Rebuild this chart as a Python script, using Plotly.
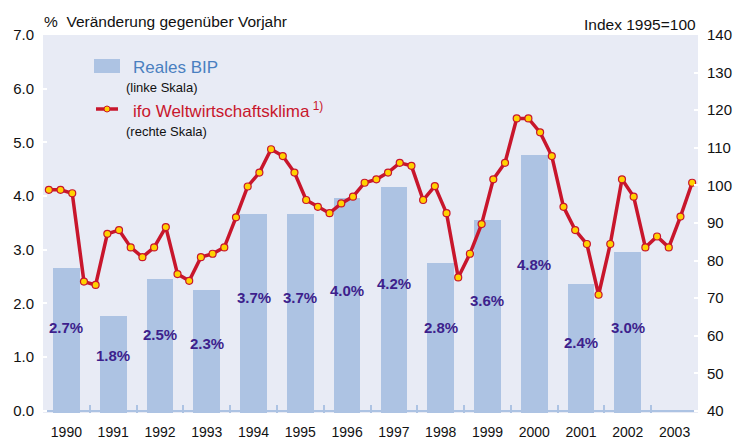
import numpy as np
import plotly.graph_objects as go

years = [1990, 1991, 1992, 1993, 1994, 1995, 1996, 1997, 1998, 1999, 2000, 2001, 2002, 2003]
bip_years = [1990, 1991, 1992, 1993, 1994, 1995, 1996, 1997, 1998, 1999, 2000, 2001, 2002]
bip = [2.7, 1.8, 2.5, 2.3, 3.7, 3.7, 4.0, 4.2, 2.8, 3.6, 4.8, 2.4, 3.0]
bip_labels = ["2.7%", "1.8%", "2.5%", "2.3%", "3.7%", "3.7%", "4.0%", "4.2%", "2.8%", "3.6%", "4.8%", "2.4%", "3.0%"]
# label heights inside the bars (left-axis units)
label_y = [1.56, 1.04, 1.43, 1.25, 2.12, 2.12, 2.25, 2.38, 1.56, 2.05, 2.72, 1.28, 1.56]

# ifo Weltwirtschaftsklima, quarterly, Index 1995=100
ifo = [98.8, 98.8, 97.9, 74.4,
       73.5, 87.1, 88.1, 83.5,
       80.9, 83.5, 88.9, 76.4,
       74.6, 80.9, 81.8, 83.5,
       91.5, 99.7, 103.4, 109.6,
       107.8, 103.4, 96.1, 94.3,
       92.6, 95.2, 97.0, 100.7,
       101.6, 103.4, 106.0, 105.2,
       96.1, 99.8, 92.6, 75.5,
       81.8, 89.7, 101.6, 106.0,
       117.8, 117.8, 114.1, 107.8,
       94.3, 88.1, 84.4, 70.9,
       84.4, 101.6, 97.0, 83.5,
       86.4, 83.5, 91.7, 100.7]
quarters = [1, 2, 3, 4]

q_x = [y - 0.5 + (q - 0.5) / 4 for y in years for q in quarters]

BAR = "#adc3e3"
BG = "#e8ebf5"
RED = "#c8162c"
YEL = "#ffd200"
PURPLE = "#3d1f8c"
FONT = "Liberation Sans, Arial, sans-serif"

fig = go.Figure()
fig.add_trace(go.Bar(x=bip_years, y=bip, base=-0.04, width=0.57,
                     marker=dict(color=BAR, line=dict(width=0)),
                     showlegend=False, yaxis="y"))
fig.add_trace(go.Scatter(x=q_x, y=ifo, mode="lines+markers", yaxis="y2",
                         line=dict(color=RED, width=3.5),
                         marker=dict(size=7, color=YEL, line=dict(color=RED, width=1.2)),
                         showlegend=False))

annotations = []
for yr, ly, t in zip(bip_years, label_y, bip_labels):
    annotations.append(dict(x=yr, y=ly, xref="x", yref="y", text="<b>%s</b>" % t,
                            showarrow=False, font=dict(size=15, color=PURPLE, family=FONT)))

annotations += [
    dict(x=42, y=443 - 22, xref="paper", yref="paper", text="%\u00a0\u00a0Veränderung gegenüber Vorjahr",
         showarrow=False, xanchor="left", yanchor="middle", font=dict(size=15.5, color="#111", family=FONT)),
    dict(x=698, y=443 - 25, xref="paper", yref="paper", text="Index 1995=100",
         showarrow=False, xanchor="right", yanchor="middle", font=dict(size=15.5, color="#111", family=FONT)),
    dict(x=131, y=443 - 67, xref="paper", yref="paper", text="Reales BIP",
         showarrow=False, xanchor="left", yanchor="middle", font=dict(size=17, color="#4a7fc0", family=FONT)),
    dict(x=124, y=443 - 87, xref="paper", yref="paper", text="(linke Skala)",
         showarrow=False, xanchor="left", yanchor="middle", font=dict(size=13, color="#111", family=FONT)),
    dict(x=131, y=443 - 110, xref="paper", yref="paper",
         text="ifo Weltwirtschaftsklima<sup> 1)</sup>",
         showarrow=False, xanchor="left", yanchor="middle", font=dict(size=17, color=RED, family=FONT)),
    dict(x=124, y=443 - 131, xref="paper", yref="paper", text="(rechte Skala)",
         showarrow=False, xanchor="left", yanchor="middle", font=dict(size=13, color="#111", family=FONT)),
]

W, H = 736, 443
ML, MR, MT, MB = 43, 38, 35, 30
PW, PH = W - ML - MR, H - MT - MB


def px(xp):
    return (xp - ML) / PW


def py(yp):
    return (yp - MB) / PH


for a in annotations:
    if a["xref"] == "paper":
        a["x"] = px(a["x"])
        a["y"] = py(a["y"])

shapes = [
    dict(type="rect", xref="paper", yref="paper", x0=px(94), x1=px(120), y0=py(443 - 73), y1=py(443 - 59),
         fillcolor=BAR, line=dict(width=0)),
    dict(type="line", xref="paper", yref="paper", x0=px(96), x1=px(118), y0=py(443 - 109), y1=py(443 - 109),
         line=dict(color=RED, width=3.5)),
    dict(type="circle", xref="paper", yref="paper", x0=px(104), x1=px(110), y0=py(443 - 112), y1=py(443 - 106),
         fillcolor=YEL, line=dict(color=RED, width=1)),
]

fig.update_layout(
    width=W, height=H, margin=dict(l=ML, r=MR, t=MT, b=MB, pad=0, autoexpand=False),
    paper_bgcolor="white", plot_bgcolor=BG,
    font=dict(family=FONT, color="#111"),
    annotations=annotations, shapes=shapes, bargap=0,
    xaxis=dict(range=[1989.5, 2003.5], tickvals=years, ticktext=[str(y) for y in years],
               ticks="", showgrid=False, zeroline=False, showline=False, automargin=False,
               tickfont=dict(size=14, color="#111"), ticklabelstandoff=9,
               minor=dict(tickvals=[y + 0.5 for y in years[:-1]], ticks="inside", ticklen=8,
                          tickcolor=BAR, tickwidth=2, showgrid=False)),
    yaxis=dict(range=[-0.04, 7.0], dtick=1, tick0=0, tickformat=".1f", showgrid=False,
               zeroline=True, zerolinecolor=BAR, zerolinewidth=2, automargin=False,
               ticks="inside", ticklen=4, tickwidth=2, tickcolor="white", ticklabelstandoff=8,
               tickfont=dict(size=15, color="#111")),
    yaxis2=dict(range=[39.44, 140], dtick=10, tick0=40, overlaying="y", side="right",
                showgrid=False, zeroline=False, automargin=False,
                ticks="inside", ticklen=4, tickwidth=2, tickcolor="white", ticklabelstandoff=8,
                tickfont=dict(size=15, color="#111")),
)

fig.write_html("out.html", config={"displayModeBar": False},
               post_script="document.body.style.margin='0';")
